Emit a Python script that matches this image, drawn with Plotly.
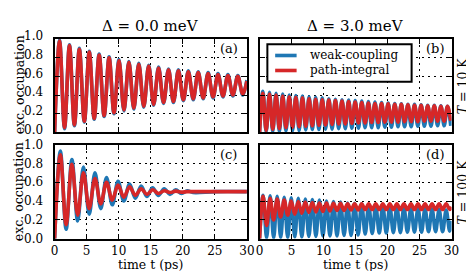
import plotly.graph_objects as go

# ---------------- data ----------------
# Panel (a): Delta = 0 meV, T = 10 K  (extrema of the oscillation)
t_a = [0, 0.77, 1.55, 2.32, 3.09, 3.86, 4.64, 5.41, 6.18, 6.95,
       7.73, 8.50, 9.27, 10.04, 10.82, 11.59, 12.36, 13.13, 13.91, 14.68,
       15.45, 16.22, 17.00, 17.77, 18.54, 19.31, 20.09, 20.86, 21.63, 22.40,
       23.18, 23.95, 24.72, 25.49, 26.27, 27.04, 27.81, 28.58, 29.36, 30.0]
weak_a = [0.00, 0.99, 0.04, 0.94, 0.07, 0.90, 0.11, 0.87, 0.14, 0.84,
          0.17, 0.81, 0.20, 0.78, 0.23, 0.76, 0.25, 0.74, 0.27, 0.72,
          0.29, 0.70, 0.31, 0.68, 0.32, 0.67, 0.34, 0.66, 0.35, 0.65,
          0.36, 0.64, 0.37, 0.63, 0.38, 0.62, 0.39, 0.61, 0.40, 0.56]
path_a = [0.00, 0.98, 0.05, 0.93, 0.08, 0.89, 0.12, 0.86, 0.15, 0.83,
          0.18, 0.80, 0.21, 0.77, 0.24, 0.75, 0.26, 0.73, 0.28, 0.71,
          0.30, 0.69, 0.32, 0.67, 0.33, 0.66, 0.35, 0.65, 0.36, 0.64,
          0.37, 0.63, 0.38, 0.62, 0.39, 0.61, 0.40, 0.60, 0.41, 0.55]

# Panel (b): Delta = 3 meV, T = 10 K
t_b = [0, 0.52, 1.03, 1.55, 2.06, 2.58, 3.09, 3.61, 4.12, 4.64,
       5.15, 5.67, 6.18, 6.70, 7.21, 7.73, 8.24, 8.76, 9.27, 9.79,
       10.30, 10.82, 11.33, 11.85, 12.36, 12.88, 13.39, 13.91, 14.42, 14.94,
       15.45, 15.97, 16.48, 17.00, 17.51, 18.03, 18.54, 19.06, 19.57, 20.09,
       20.60, 21.12, 21.63, 22.15, 22.66, 23.18, 23.69, 24.21, 24.72, 25.24,
       25.75, 26.27, 26.78, 27.30, 27.81, 28.33, 28.84, 29.36, 29.87]
weak_b = [0.00, 0.44, 0.005, 0.43, 0.01, 0.42, 0.01, 0.41, 0.015, 0.40,
          0.02, 0.395, 0.02, 0.39, 0.025, 0.38, 0.03, 0.375, 0.03, 0.37,
          0.035, 0.36, 0.035, 0.355, 0.04, 0.35, 0.04, 0.345, 0.045, 0.34,
          0.045, 0.335, 0.05, 0.33, 0.05, 0.325, 0.05, 0.32, 0.055, 0.315,
          0.055, 0.31, 0.06, 0.305, 0.06, 0.30, 0.06, 0.30, 0.065, 0.295,
          0.065, 0.29, 0.065, 0.29, 0.07, 0.285, 0.07, 0.28, 0.07]
path_b = [0.00, 0.42, 0.02, 0.41, 0.03, 0.40, 0.04, 0.39, 0.05, 0.38,
          0.055, 0.375, 0.06, 0.37, 0.065, 0.36, 0.07, 0.355, 0.075, 0.35,
          0.08, 0.345, 0.085, 0.34, 0.09, 0.335, 0.09, 0.33, 0.095, 0.325,
          0.10, 0.32, 0.10, 0.315, 0.105, 0.31, 0.105, 0.31, 0.11, 0.305,
          0.11, 0.30, 0.11, 0.30, 0.115, 0.295, 0.115, 0.29, 0.115, 0.29,
          0.12, 0.285, 0.12, 0.285, 0.12, 0.28, 0.12, 0.28, 0.125]

# Panel (c): Delta = 0 meV, T = 100 K
t_c = [0, 0.9, 1.8, 2.7, 3.6, 4.5, 5.4, 6.3, 7.2, 8.1,
       9.0, 9.9, 10.8, 11.7, 12.6, 13.5, 14.4, 15.3, 16.2, 17.1,
       18.0, 18.9, 19.8, 20.7, 21.6, 25.0, 30.0]
weak_c = [0.00, 0.93, 0.10, 0.84, 0.19, 0.76, 0.26, 0.70, 0.32, 0.65,
          0.36, 0.61, 0.40, 0.58, 0.43, 0.56, 0.45, 0.54, 0.46, 0.53,
          0.47, 0.52, 0.48, 0.51, 0.49, 0.50, 0.50]
path_c = [0.00, 0.89, 0.15, 0.79, 0.25, 0.70, 0.32, 0.64, 0.37, 0.60,
          0.41, 0.57, 0.44, 0.55, 0.46, 0.53, 0.47, 0.52, 0.48, 0.51,
          0.49, 0.505, 0.495, 0.50, 0.50, 0.50, 0.50]

# Panel (d): Delta = 3 meV, T = 100 K
t_d = [0, 0.55, 1.10, 1.65, 2.20, 2.75, 3.30, 3.85, 4.40, 4.95,
       5.50, 6.05, 6.60, 7.15, 7.70, 8.25, 8.80, 9.35, 9.90, 10.45,
       11.00, 11.55, 12.10, 12.65, 13.20, 13.75, 14.30, 14.85, 15.40, 15.95,
       16.50, 17.05, 17.60, 18.15, 18.70, 19.25, 19.80, 20.35, 20.90, 21.45,
       22.00, 22.55, 23.10, 23.65, 24.20, 24.75, 25.30, 25.85, 26.40, 26.95,
       27.50, 28.05, 28.60, 29.15, 29.70, 30.0]
weak_d = [0.00, 0.46, 0.01, 0.455, 0.01, 0.45, 0.015, 0.44, 0.015, 0.435,
          0.02, 0.43, 0.02, 0.42, 0.025, 0.415, 0.025, 0.41, 0.03, 0.40,
          0.03, 0.395, 0.03, 0.39, 0.035, 0.38, 0.035, 0.375, 0.04, 0.37,
          0.05, 0.36, 0.055, 0.355, 0.06, 0.35, 0.06, 0.345, 0.065, 0.34,
          0.065, 0.335, 0.07, 0.33, 0.07, 0.325, 0.07, 0.32, 0.075, 0.315,
          0.075, 0.31, 0.075, 0.305, 0.08, 0.19]
path_d = [0.00, 0.45, 0.14, 0.43, 0.20, 0.42, 0.23, 0.41, 0.25, 0.40,
          0.26, 0.395, 0.27, 0.39, 0.28, 0.385, 0.285, 0.38, 0.29, 0.38,
          0.295, 0.375, 0.30, 0.375, 0.30, 0.37, 0.305, 0.37, 0.305, 0.37,
          0.31, 0.37, 0.31, 0.37, 0.31, 0.37, 0.31, 0.37, 0.31, 0.37,
          0.31, 0.37, 0.31, 0.37, 0.31, 0.37, 0.31, 0.37, 0.31, 0.37,
          0.31, 0.37, 0.31, 0.37, 0.31, 0.34]

x_ticks = [0, 5, 10, 15, 20, 25, 30]
x_ticklabels = ["0", "5", "10", "15", "20", "25", "30"]
y_ticks = [0, 0.2, 0.4, 0.6, 0.8, 1.0]
y_ticklabels = ["0.0", "0.2", "0.4", "0.6", "0.8", "1.0"]

series_names = ["weak-coupling", "path-integral"]
col_titles = ["Δ = 0.0 meV", "Δ = 3.0 meV"]
row_titles = ["<i>T</i> = 10 K", "<i>T</i> = 100 K"]
panel_tags = ["(a)", "(b)", "(c)", "(d)"]

# ---------------- styling ----------------
BLUE = "#1f77b4"
RED = "#d62728"
COLORS = [BLUE, RED]
FONT = "DejaVu Serif"
W, H = 474, 271
LW = 3.6

xdom_l = [43.7 / W, 241.0 / W]
xdom_r = [254.0 / W, 451.0 / W]
ydom_t = [1 - 122.0 / H, 1 - 22.5 / H]
ydom_b = [1 - 235.5 / H, 1 - 135.0 / H]

fig = go.Figure()

panels = [
    ("x", "y", t_a, weak_a, path_a),
    ("x2", "y2", t_b, weak_b, path_b),
    ("x3", "y3", t_c, weak_c, path_c),
    ("x4", "y4", t_d, weak_d, path_d),
]
for xa, ya, t, wk, pi in panels:
    fig.add_trace(go.Scatter(x=t, y=wk, xaxis=xa, yaxis=ya, mode="lines",
                             line=dict(color=BLUE, width=LW, shape="spline", smoothing=1.0),
                             name=series_names[0], showlegend=False))
    fig.add_trace(go.Scatter(x=t, y=pi, xaxis=xa, yaxis=ya, mode="lines",
                             line=dict(color=RED, width=LW, shape="spline", smoothing=1.0),
                             name=series_names[1], showlegend=False))


def xax(domain, anchor, labels):
    return dict(domain=domain, anchor=anchor, range=[0, 30],
                tickvals=x_ticks, ticktext=x_ticklabels, showticklabels=labels,
                showline=True, linecolor="black", linewidth=2, mirror="allticks",
                ticks="inside", ticklen=5, tickwidth=1, tickcolor="black",
                showgrid=True, gridcolor="black", gridwidth=1, griddash="2px,4px",
                zeroline=False, ticklabelstandoff=0,
                tickfont=dict(family=FONT, size=12, color="black"))


def yax(domain, anchor, labels, shift=0):
    return dict(domain=domain, anchor=anchor, range=[0, 1],
                tickvals=y_ticks, ticktext=y_ticklabels, showticklabels=labels,
                showline=True, linecolor="black", linewidth=2, mirror="allticks",
                ticks="inside", ticklen=5, tickwidth=1, tickcolor="black",
                showgrid=True, gridcolor="black", gridwidth=1, griddash="2px,4px",
                zeroline=False, ticklabelstandoff=7, ticklabelshift=shift,
                tickfont=dict(family=FONT, size=12, color="black"))


fig.update_layout(
    width=W, height=H,
    margin=dict(l=0, r=0, t=0, b=0),
    paper_bgcolor="white", plot_bgcolor="white",
    xaxis=xax(xdom_l, "y", False), yaxis=yax(ydom_t, "x", True, -3),
    xaxis2=xax(xdom_r, "y2", False), yaxis2=yax(ydom_t, "x2", False),
    xaxis3=xax(xdom_l, "y3", True), yaxis3=yax(ydom_b, "x3", True),
    xaxis4=xax(xdom_r, "y4", True), yaxis4=yax(ydom_b, "x4", False),
    showlegend=False,
)

# legend box inside panel (b), drawn in paper coordinates
shapes = [dict(type="rect", xref="paper", yref="paper",
               x0=262 / W, x1=410 / W, y0=1 - 68 / H, y1=1 - 28 / H,
               line=dict(color="black", width=2), fillcolor="white", layer="above")]
legend_rows = [40.0, 56.0]
for name, col, ry in zip(series_names, COLORS, legend_rows):
    shapes.append(dict(type="line", xref="paper", yref="paper",
                       x0=270 / W, x1=292 / W, y0=1 - ry / H, y1=1 - ry / H,
                       line=dict(color=col, width=LW), layer="above"))
fig.update_layout(shapes=shapes)

ann = []
font_t = dict(family=FONT, size=15, color="black")
font_l = dict(family=FONT, size=12.5, color="black")
font_x = dict(family=FONT, size=12.5, color="black")
font_p = dict(family=FONT, size=13, color="black")
font_g = dict(family=FONT, size=12, color="black")
font_r = dict(family=FONT, size=12.5, color="black")
ann.append(dict(text=col_titles[0], x=142.3 / W, y=1 - 9 / H, font=font_t))
ann.append(dict(text=col_titles[1], x=352.5 / W, y=1 - 9 / H, font=font_t))
ann.append(dict(text="exc. occupation", x=7.5 / W, y=1 - 71.5 / H, textangle=-90, font=font_l))
ann.append(dict(text="exc. occupation", x=7.5 / W, y=1 - 185.5 / H, textangle=-90, font=font_l))
ann.append(dict(text=row_titles[0], x=462.5 / W, y=1 - 72 / H, textangle=-90, font=font_r))
ann.append(dict(text=row_titles[1], x=462.5 / W, y=1 - 185.3 / H, textangle=-90, font=font_r))
ann.append(dict(text="time t (ps)", x=142.3 / W, y=1 - 263.5 / H, font=font_x))
ann.append(dict(text="time t (ps)", x=352.5 / W, y=1 - 263.5 / H, font=font_x))
ann.append(dict(text=panel_tags[0], x=223 / W, y=1 - 33 / H, font=font_p))
ann.append(dict(text=panel_tags[1], x=433.5 / W, y=1 - 33 / H, font=font_p))
ann.append(dict(text=panel_tags[2], x=222 / W, y=1 - 146 / H, font=font_p))
ann.append(dict(text=panel_tags[3], x=433.5 / W, y=1 - 146 / H, font=font_p))
for name, ry in zip(series_names, legend_rows):
    ann.append(dict(text=name, x=304 / W, y=1 - ry / H, font=font_g, xanchor="left"))
for a in ann:
    a.update(xref="paper", yref="paper", showarrow=False, yanchor="middle")
    a.setdefault("xanchor", "center")
fig.update_layout(annotations=ann)

fig.write_html("out.html")
